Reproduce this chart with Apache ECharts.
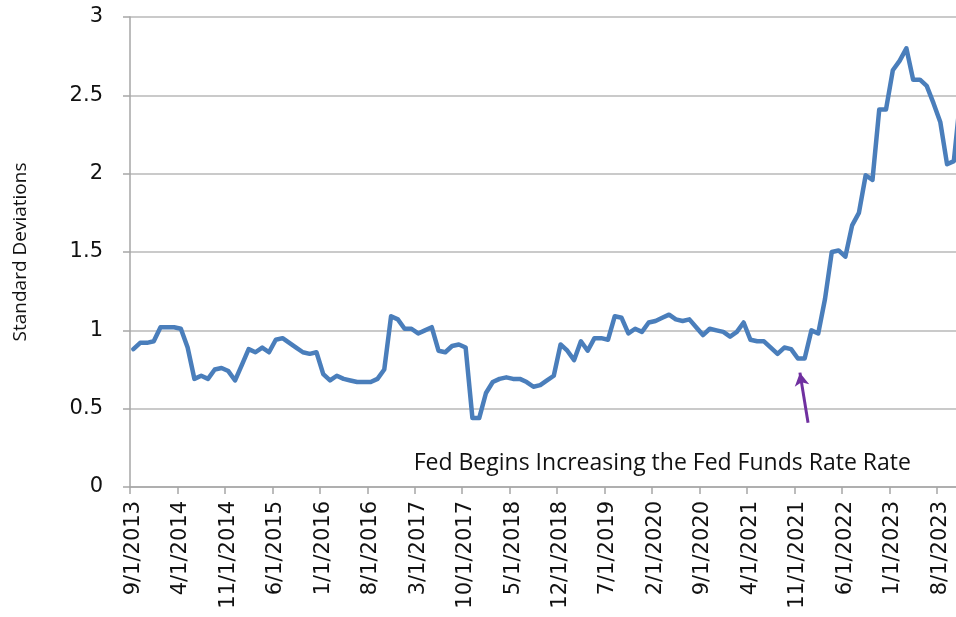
<!DOCTYPE html>
<html>
<head>
<meta charset="utf-8">
<script src="https://cdn.jsdelivr.net/npm/echarts@6/dist/echarts.min.js"></script>
<style>
  html, body { margin: 0; padding: 0; background: #ffffff; }
  #chart { width: 956px; height: 617px; }
</style>
</head>
<body>
<div id="chart"></div>
<script>
// Monthly observation dates
const months = [
  '9/1/2013','10/1/2013','11/1/2013','12/1/2013',
  '1/1/2014','2/1/2014','3/1/2014','4/1/2014','5/1/2014','6/1/2014','7/1/2014','8/1/2014','9/1/2014','10/1/2014','11/1/2014','12/1/2014',
  '1/1/2015','2/1/2015','3/1/2015','4/1/2015','5/1/2015','6/1/2015','7/1/2015','8/1/2015','9/1/2015','10/1/2015','11/1/2015','12/1/2015',
  '1/1/2016','2/1/2016','3/1/2016','4/1/2016','5/1/2016','6/1/2016','7/1/2016','8/1/2016','9/1/2016','10/1/2016','11/1/2016','12/1/2016',
  '1/1/2017','2/1/2017','3/1/2017','4/1/2017','5/1/2017','6/1/2017','7/1/2017','8/1/2017','9/1/2017','10/1/2017','11/1/2017','12/1/2017',
  '1/1/2018','2/1/2018','3/1/2018','4/1/2018','5/1/2018','6/1/2018','7/1/2018','8/1/2018','9/1/2018','10/1/2018','11/1/2018','12/1/2018',
  '1/1/2019','2/1/2019','3/1/2019','4/1/2019','5/1/2019','6/1/2019','7/1/2019','8/1/2019','9/1/2019','10/1/2019','11/1/2019','12/1/2019',
  '1/1/2020','2/1/2020','3/1/2020','4/1/2020','5/1/2020','6/1/2020','7/1/2020','8/1/2020','9/1/2020','10/1/2020','11/1/2020','12/1/2020',
  '1/1/2021','2/1/2021','3/1/2021','4/1/2021','5/1/2021','6/1/2021','7/1/2021','8/1/2021','9/1/2021','10/1/2021','11/1/2021','12/1/2021',
  '1/1/2022','2/1/2022','3/1/2022','4/1/2022','5/1/2022','6/1/2022','7/1/2022','8/1/2022','9/1/2022','10/1/2022','11/1/2022','12/1/2022',
  '1/1/2023','2/1/2023','3/1/2023','4/1/2023','5/1/2023','6/1/2023','7/1/2023','8/1/2023','9/1/2023','10/1/2023','11/1/2023'
];

// Standard deviations from the long-run mean
const stdDevs = [
  0.88, 0.92, 0.92, 0.93,
  1.02, 1.02, 1.02, 1.01, 0.89, 0.69, 0.71, 0.69, 0.75, 0.76, 0.74, 0.68,
  0.78, 0.88, 0.86, 0.89, 0.86, 0.94, 0.95, 0.92, 0.89, 0.86, 0.85, 0.86,
  0.72, 0.68, 0.71, 0.69, 0.68, 0.67, 0.67, 0.67, 0.69, 0.75, 1.09, 1.07,
  1.01, 1.01, 0.98, 1.00, 1.02, 0.87, 0.86, 0.90, 0.91, 0.89, 0.44, 0.44,
  0.60, 0.67, 0.69, 0.70, 0.69, 0.69, 0.67, 0.64, 0.65, 0.68, 0.71, 0.91,
  0.87, 0.81, 0.93, 0.87, 0.95, 0.95, 0.94, 1.09, 1.08, 0.98, 1.01, 0.99,
  1.05, 1.06, 1.08, 1.10, 1.07, 1.06, 1.07, 1.02, 0.97, 1.01, 1.00, 0.99,
  0.96, 0.99, 1.05, 0.94, 0.93, 0.93, 0.89, 0.85, 0.89, 0.88, 0.82, 0.82,
  1.00, 0.98, 1.20, 1.50, 1.51, 1.47, 1.67, 1.75, 1.99, 1.96, 2.41, 2.41,
  2.66, 2.72, 2.80, 2.60, 2.60, 2.56, 2.45, 2.33, 2.06, 2.08, 2.50
];

// Y axis range
const yMin = 0, yMax = 3, yStep = 0.5;

// Annotation: arrow (tail -> tip) in month-position units, and caption anchor
const noteText = 'Fed Begins Increasing the Fed Funds Rate Rate';
const arrowTail = [100.0, 0.41];
const arrowTip = [98.8, 0.73];
const noteAnchor = [78.5, 0.15];

const chart = echarts.init(document.getElementById('chart'), null, { renderer: 'canvas' });

const gridColor = '#b8b8b8';
const tickFont = 'DejaVu Sans';

chart.setOption({
  animation: false,
  backgroundColor: '#ffffff',
  grid: { left: 130, top: 17, bottom: 130, right: -8, containLabel: false, outerBoundsMode: 'none' },
  xAxis: [
    {
      type: 'category',
      data: months,
      boundaryGap: true,
      axisLine: { lineStyle: { color: '#a6a6a6', width: 1.5 } },
      axisTick: { show: true, interval: 6, length: 7, lineStyle: { color: '#a6a6a6', width: 1.5 } },
      axisLabel: {
        interval: 6, rotate: 90, margin: 14,
        fontFamily: tickFont, fontSize: 21, color: '#111111'
      },
      splitLine: { show: false }
    },
    {
      // continuous companion axis (month positions) for the annotation
      type: 'value',
      min: 0, max: months.length,
      show: false
    }
  ],
  yAxis: {
    type: 'value',
    min: yMin, max: yMax, interval: yStep,
    name: 'Standard Deviations',
    nameLocation: 'middle',
    nameRotate: 90,
    nameGap: 100,
    nameTextStyle: { fontFamily: 'Open Sans', fontSize: 19, color: '#111111' },
    axisLine: { show: true, lineStyle: { color: '#a6a6a6', width: 1.5 } },
    axisTick: { show: true, length: 7, lineStyle: { color: '#a6a6a6', width: 1.5 } },
    axisLabel: {
      margin: 27, fontFamily: tickFont, fontSize: 21, color: '#111111',
      formatter: v => String(v)
    },
    splitLine: { show: true, lineStyle: { color: gridColor, width: 1.5 } }
  },
  series: [
    {
      type: 'line',
      data: stdDevs,
      showSymbol: false,
      symbol: 'none',
      lineStyle: { color: '#4a7ebb', width: 4.5, join: 'round', cap: 'round' },
      clip: false
    },
    {
      type: 'line',
      xAxisIndex: 1,
      data: [],
      markLine: {
        silent: true,
        animation: false,
        symbol: ['none', 'arrow'],
        symbolSize: [11, 13],
        label: { show: false },
        lineStyle: { color: '#7030a0', width: 3, type: 'solid' },
        data: [[{ coord: arrowTail }, { coord: arrowTip }]]
      }
    }
  ]
});

// Caption placed through the axis scales
const p = chart.convertToPixel({ xAxisIndex: 1, yAxisIndex: 0 }, noteAnchor);
chart.setOption({
  graphic: [{
    type: 'text',
    x: p[0], y: p[1],
    style: {
      text: noteText,
      fontFamily: 'Open Sans',
      fontSize: 23,
      fill: '#111111',
      align: 'center',
      verticalAlign: 'middle'
    }
  }]
});
</script>
</body>
</html>
